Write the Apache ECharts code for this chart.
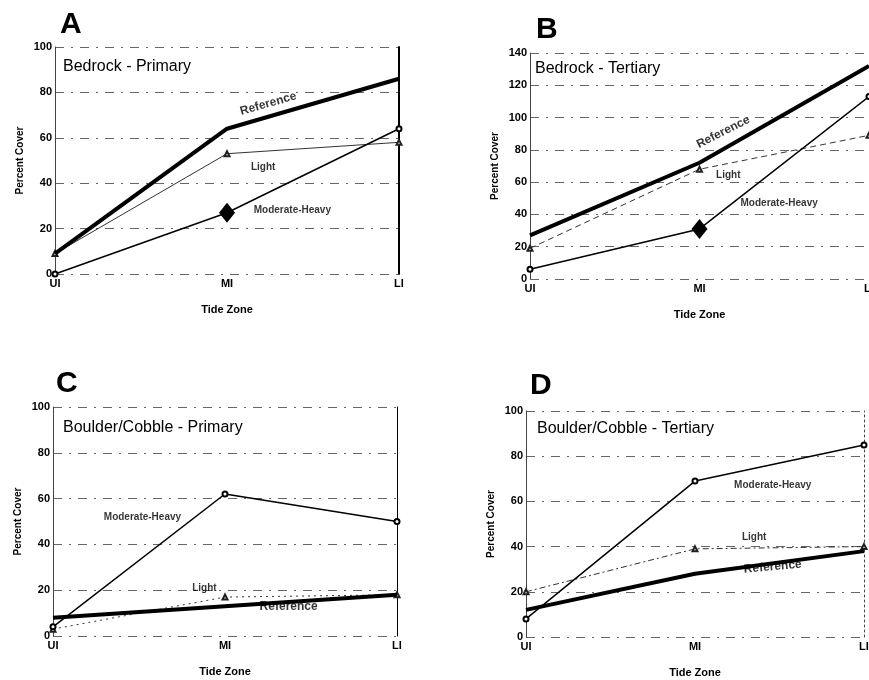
<!DOCTYPE html>
<html>
<head>
<meta charset="utf-8">
<script src="https://cdn.jsdelivr.net/npm/echarts@6/dist/echarts.min.js"></script>
<style>
  html, body { margin: 0; padding: 0; background: #fff; }
  #main { width: 869px; height: 680px; }
</style>
</head>
<body>
<div id="main"></div>
<script>
// tide zones on the x axis
const zones = ['UI', 'MI', 'LI'];

// A: Bedrock - Primary
const refA = [9, 64, 86];
const lightA = [9, 53, 58];
const modA = [0, 27, 64];
// B: Bedrock - Tertiary
const refB = [27, 72, 132];
const lightB = [19, 68, 89];
const modB = [6, 31, 113];
// C: Boulder/Cobble - Primary
const refC = [8, 13, 18];
const lightC = [3, 17, 18];
const modC = [4, 62, 50];
// D: Boulder/Cobble - Tertiary
const refD = [12, 28, 38];
const lightD = [20, 39, 40];
const modD = [8, 69, 85];

// in-plot labels: [text, zone position, percent]
const notesA = [['Reference', 1.24, 75], ['Light', 1.21, 47], ['Moderate-Heavy', 1.38, 28]];
const notesB = [['Reference', 1.14, 91], ['Light', 1.17, 64], ['Moderate-Heavy', 1.47, 47]];
const notesC = [['Moderate-Heavy', 0.52, 52], ['Light', 0.88, 21], ['Reference', 1.37, 13]];
const notesD = [['Moderate-Heavy', 1.46, 67], ['Light', 1.35, 44], ['Reference', 1.46, 31]];

const FONT = '"Liberation Sans", Arial, sans-serif';

const panels = [
  { letter: 'A', title: 'Bedrock - Primary', max: 100, ref: refA, light: lightA, mod: modA, notes: notesA,
    grid: { left: 55, top: 47, width: 344, height: 227 }, letterPos: [55, 5], titlePos: [58, 54],
    refRot: 16, diamond: true, lightDash: 'solid', rightLine: { width: 2, type: 'solid', color: '#000' } },
  { letter: 'B', title: 'Bedrock - Tertiary', max: 140, ref: refB, light: lightB, mod: modB, notes: notesB,
    grid: { left: 530, top: 53, width: 339, height: 226 }, letterPos: [531, 10], titlePos: [530, 56],
    refRot: 27, diamond: true, lightDash: [6, 4], rightLine: { width: 1, type: [3, 4], color: '#555' } },
  { letter: 'C', title: 'Boulder/Cobble - Primary', max: 100, ref: refC, light: lightC, mod: modC, notes: notesC,
    grid: { left: 53, top: 407, width: 344, height: 229 }, letterPos: [51, 364], titlePos: [58, 415],
    refRot: 0, diamond: false, lightDash: [2, 4], rightLine: { width: 1, type: 'solid', color: '#000' } },
  { letter: 'D', title: 'Boulder/Cobble - Tertiary', max: 100, ref: refD, light: lightD, mod: modD, notes: notesD,
    grid: { left: 526, top: 411, width: 338, height: 226 }, letterPos: [525, 366], titlePos: [532, 416],
    refRot: 5, diamond: false, lightDash: [6, 3, 2, 3], rightLine: { width: 1, type: [2, 3], color: '#444' } },
];

const myChart = echarts.init(document.getElementById('main'));

const grid = [];
const xAxis = [];
const yAxis = [];
const series = [];
const title = [];

panels.forEach((p, ix) => {
  grid.push(Object.assign({ outerBoundsMode: 'none', containLabel: false }, p.grid));
  title.push({
    text: p.letter, left: p.letterPos[0], top: p.letterPos[1],
    textStyle: { fontFamily: FONT, fontSize: 30, fontWeight: 'bold', color: '#000' },
  });
  title.push({
    text: p.title, left: p.titlePos[0], top: p.titlePos[1],
    textStyle: { fontFamily: FONT, fontSize: 16, fontWeight: 'normal', color: '#000' },
  });

  xAxis.push({
    type: 'value', gridIndex: ix, min: 0, max: 2, interval: 1,
    name: 'Tide Zone', nameLocation: 'middle', nameGap: 30,
    nameTextStyle: { fontFamily: FONT, fontSize: 11, fontWeight: 'bold', color: '#000' },
    axisLine: { show: false }, axisTick: { show: false }, splitLine: { show: false },
    axisLabel: {
      margin: 4, fontFamily: FONT, fontSize: 11, fontWeight: 'bold', color: '#000',
      formatter: (v) => zones[v],
    },
  });
  yAxis.push({
    type: 'value', gridIndex: ix, min: 0, max: p.max, interval: 20,
    name: 'Percent Cover', nameLocation: 'middle', nameGap: 30, nameRotate: 90,
    nameTextStyle: { fontFamily: FONT, fontSize: 10, fontWeight: 'bold', color: '#000' },
    axisLine: { show: true, lineStyle: { color: '#444', width: 1 } },
    axisTick: { show: false },
    axisLabel: { margin: 3, fontFamily: FONT, fontSize: 11, fontWeight: 'bold', color: '#000' },
    splitLine: { show: true, lineStyle: { color: '#666', width: 1, type: [9, 7, 2, 7] } },
  });
  // right-hand frame line at LI
  yAxis.push({
    type: 'value', gridIndex: ix, min: 0, max: p.max, interval: 20, position: 'right',
    axisLine: { show: true, onZero: false, lineStyle: p.rightLine },
    axisTick: { show: false }, axisLabel: { show: false }, splitLine: { show: false },
  });
  const yi = ix * 2;

  const toPts = (vals) => zones.map((z, i) => [i, vals[i]]);

  series.push({
    name: 'Reference', type: 'line', xAxisIndex: ix, yAxisIndex: yi,
    data: toPts(p.ref), symbol: 'none',
    lineStyle: { color: '#000', width: 4 }, z: 5,
  });
  series.push({
    name: 'Light', type: 'line', xAxisIndex: ix, yAxisIndex: yi,
    data: toPts(p.light), symbol: 'emptyTriangle', symbolSize: 5,
    itemStyle: { color: '#222', borderWidth: 1 },
    lineStyle: { color: '#333', width: 1, type: p.lightDash }, z: 3,
  });
  series.push({
    name: 'Moderate-Heavy', type: 'line', xAxisIndex: ix, yAxisIndex: yi,
    data: toPts(p.mod).map((pt, i) => (p.diamond && i === 1
      ? { value: pt, symbol: 'diamond', symbolSize: [16, 20] }
      : { value: pt })),
    symbol: 'emptyCircle', symbolSize: 5,
    itemStyle: { color: '#000', borderWidth: 1 },
    lineStyle: { color: '#000', width: 1.5 }, z: 4,
  });
  series.push({
    type: 'scatter', xAxisIndex: ix, yAxisIndex: yi, silent: true,
    symbolSize: 0, itemStyle: { color: '#000' }, z: 6,
    data: p.notes.map((n) => ({
      value: [n[1], n[2]],
      label: {
        show: true, position: [0, 0], align: 'center', verticalAlign: 'middle',
        formatter: n[0],
        rotate: n[0] === 'Reference' ? p.refRot : 0,
        fontFamily: FONT, fontWeight: 'bold', color: '#000',
        textBorderWidth: 0,
        fontSize: n[0] === 'Reference' ? 12 : 10,
      },
    })),
  });
});

const option = {
  animation: false,
  backgroundColor: '#fff',
  title,
  grid,
  xAxis,
  yAxis,
  series,
};

myChart.setOption(option);
</script>
</body>
</html>
